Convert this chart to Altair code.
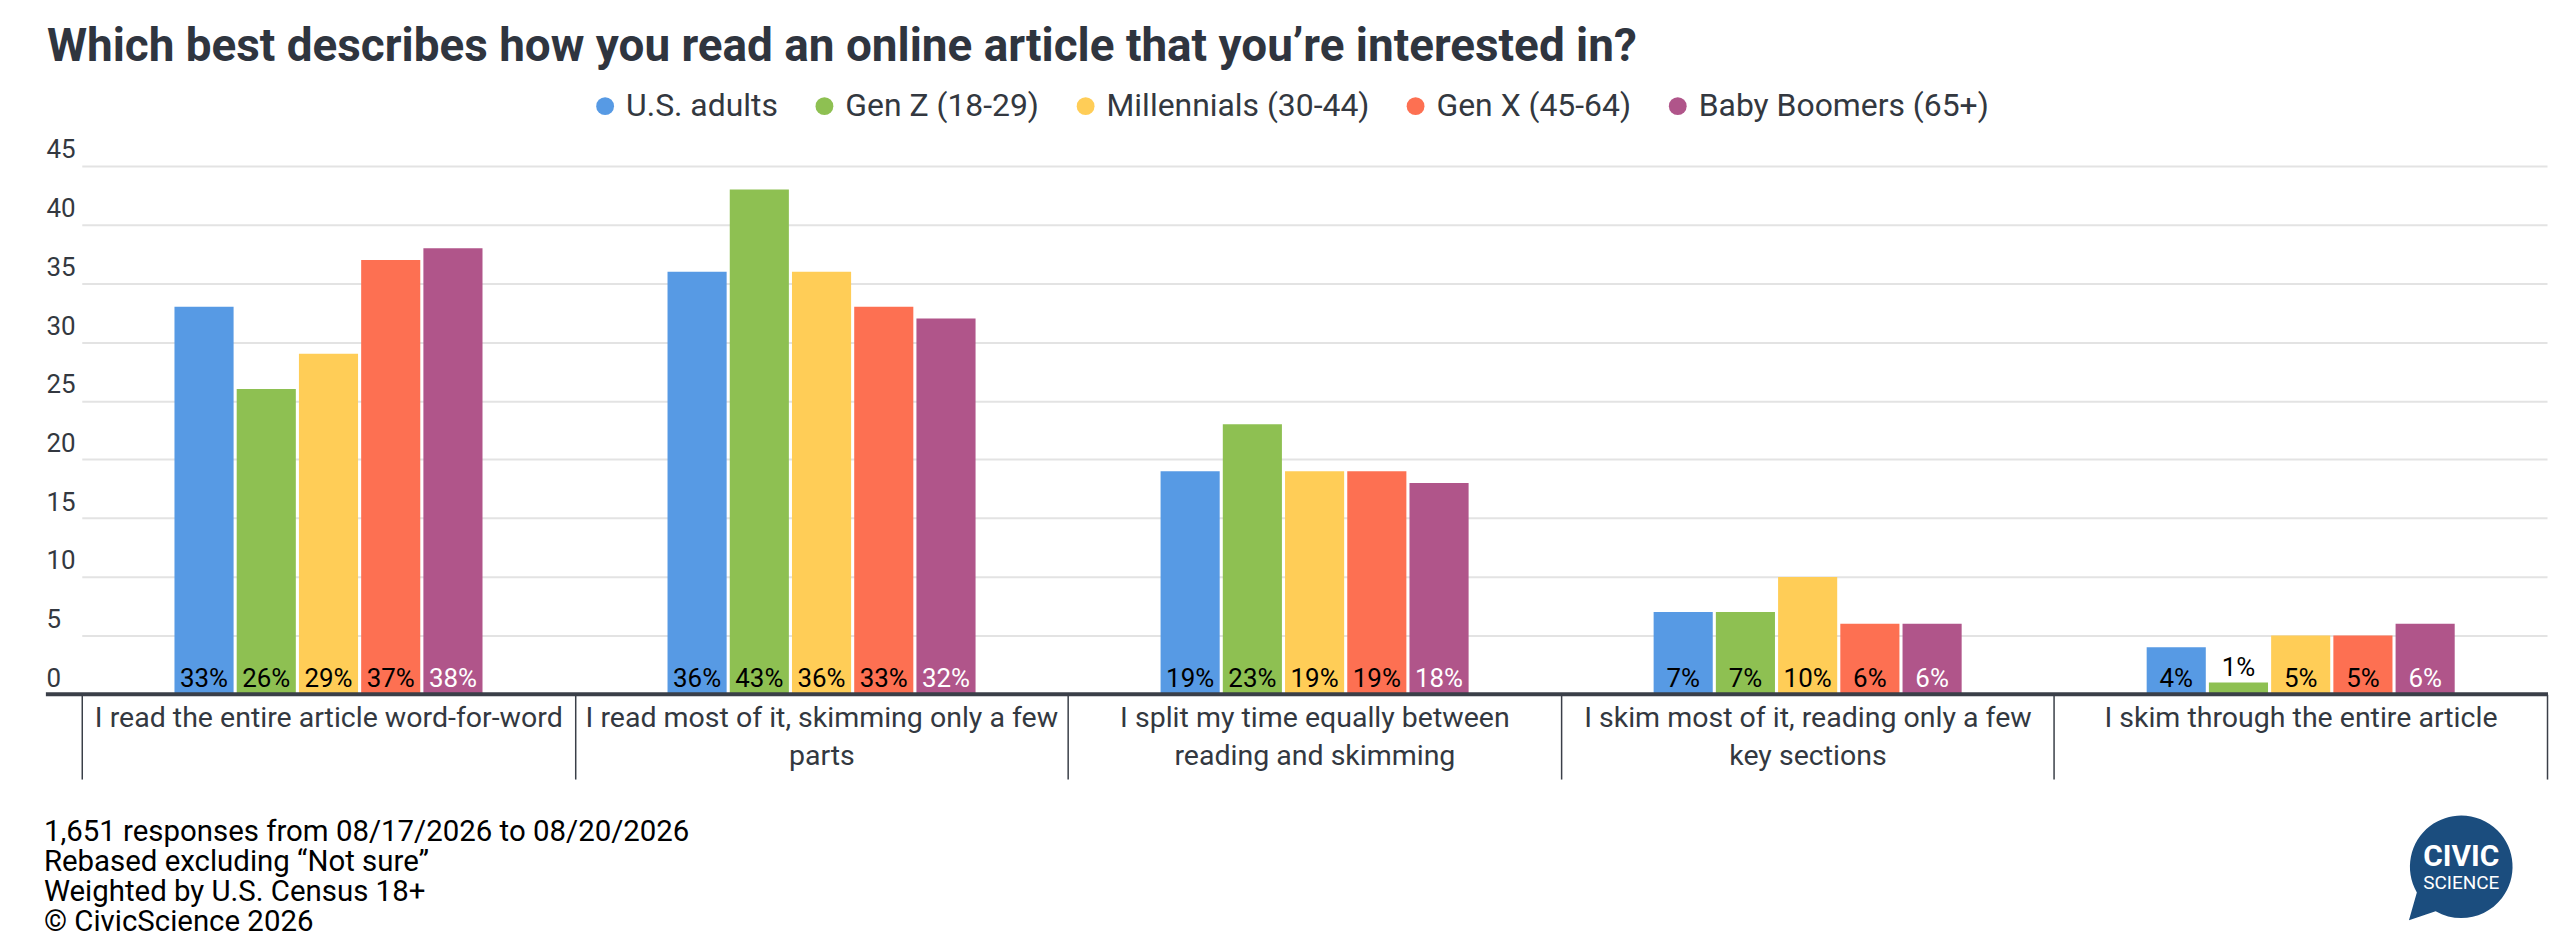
import json
import altair as alt
import pandas as pd

# ---------------- data ----------------
categories = [
    "I read the entire article word-for-word",
    "I read most of it, skimming only a few parts",
    "I split my time equally between reading and skimming",
    "I skim most of it, reading only a few key sections",
    "I skim through the entire article",
]
category_lines = [
    ["I read the entire article word-for-word"],
    ["I read most of it, skimming only a few", "parts"],
    ["I split my time equally between", "reading and skimming"],
    ["I skim most of it, reading only a few", "key sections"],
    ["I skim through the entire article"],
]
series = [
    "U.S. adults",
    "Gen Z (18-29)",
    "Millennials (30-44)",
    "Gen X (45-64)",
    "Baby Boomers (65+)",
]
us_adults = [33, 36, 19, 7, 4]
gen_z = [26, 43, 23, 7, 1]
millennials = [29, 36, 19, 10, 5]
gen_x = [37, 33, 19, 6, 5]
baby_boomers = [38, 32, 18, 6, 6]

colors = ["#579ae4", "#8ec052", "#ffcd57", "#fd7052", "#b0558a"]
label_colors = ["#000000", "#000000", "#000000", "#000000", "#ffffff"]
y_ticks = [0, 5, 10, 15, 20, 25, 30, 35, 40, 45]

title_text = "Which best describes how you read an online article that you\u2019re interested in?"
footer_lines = [
    "1,651 responses from 08/17/2026 to 08/20/2026",
    "Rebased excluding \u201cNot sure\u201d",
    "Weighted by U.S. Census 18+",
    "\u00a9 CivicScience 2026",
]

# ---------------- table ----------------
rows = []
for s, vals, lc in zip(series, [us_adults, gen_z, millennials, gen_x, baby_boomers], label_colors):
    for c, v in zip(categories, vals):
        rows.append({"category": c, "series": s, "value": v,
                     "label": f"{v}%", "label_color": lc, "base": 0})
df = pd.DataFrame(rows)

W, H = 2510, 530
TEXT = "#333840"
DARK = "#3a3f48"

# label expression for wrapped category labels
expr = "''"
for c, lines in reversed(list(zip(categories, category_lines))):
    expr = f"datum.label === {json.dumps(c)} ? {json.dumps(lines)} : ({expr})"

x_enc = alt.X(
    "category:N",
    sort=categories,
    title=None,
    scale=alt.Scale(range=[36, 2509], paddingInner=0, paddingOuter=0),
    axis=alt.Axis(
        domain=False,
        ticks=True,
        tickBand="extent",
        tickSize=85,
        tickColor=DARK,
        tickWidth=1.5,
        labelAngle=0,
        labelFont="Roboto",
        labelFontSize=28.6,
        labelColor=TEXT,
        labelLineHeight=38,
        labelPadding=-76,
        labelBaseline="top",
        labelLimit=800,
        labelOverlap=False,
        labelExpr=expr,
        zindex=1,
    ),
)
xoff = alt.XOffset("series:N", sort=series,
                   scale=alt.Scale(range=[93, 402], paddingInner=0.05, paddingOuter=0))
y_scale = alt.Scale(domain=[0, 45], nice=False)
y_axis = alt.Axis(
    values=y_ticks,
    domain=False,
    ticks=False,
    tickSize=0,
    labelAlign="left",
    labelBaseline="alphabetic",
    labelPadding=0,
    labelOffset=-8,
    labelFont="Roboto",
    labelFontSize=26,
    labelColor=TEXT,
    labelOverlap=False,
    grid=True,
    gridColor="#e3e3e3",
    gridWidth=2,
)

bars = alt.Chart(df).mark_bar().encode(
    x=x_enc,
    xOffset=xoff,
    y=alt.Y("value:Q", scale=y_scale, axis=y_axis, title=None),
    color=alt.Color(
        "series:N",
        sort=series,
        scale=alt.Scale(domain=series, range=colors),
        legend=alt.Legend(
            title=None,
            orient="none",
            direction="horizontal",
            legendX=545,
            legendY=-76,
            symbolType="circle",
            symbolSize=320,
            symbolStrokeWidth=0,
            labelFont="Roboto",
            labelFontSize=32,
            labelColor=TEXT,
            labelOffset=5,
            columnPadding=30,
            labelLimit=600,
        ),
    ),
)

inside = alt.Chart(df).transform_filter("datum.value >= 3").mark_text(
    font="Roboto", fontSize=26, baseline="alphabetic", dy=-7
).encode(
    x=x_enc,
    xOffset=xoff,
    y=alt.Y("base:Q", scale=y_scale),
    text="label:N",
    fill=alt.Fill("label_color:N", scale=None),
)

outside = alt.Chart(df).transform_filter("datum.value < 3").mark_text(
    font="Roboto", fontSize=26, baseline="alphabetic", dy=-7, color="#000000"
).encode(
    x=x_enc,
    xOffset=xoff,
    y=alt.Y("value:Q", scale=y_scale),
    text="label:N",
)

zero_line = alt.Chart(pd.DataFrame({"zero": [0]})).mark_rule(
    color=DARK, strokeWidth=4
).encode(y=alt.Y("zero:Q", scale=y_scale))

one = pd.DataFrame({"k": [0]})
footer = alt.Chart(one).mark_text(
    align="left", baseline="alphabetic", font="Roboto", fontSize=29.5,
    lineHeight=30, color="#000000"
).encode(x=alt.value(-2), y=alt.value(677), text=alt.value(footer_lines))

bubble_path = "M -0.5 0.866 A 1 1 0 1 0 -0.866 0.5 L -1.02 1.04 Z"
logo_bubble = alt.Chart(one).mark_point(
    shape=bubble_path, filled=True, size=10600, color="#1b4d7e", opacity=1, strokeWidth=0
).encode(x=alt.value(2423), y=alt.value(703))
logo_civic = alt.Chart(one).mark_text(
    font="Roboto", fontWeight="bold", fontSize=30, color="#ffffff", align="center", baseline="alphabetic"
).encode(x=alt.value(2423), y=alt.value(702), text=alt.value("CIVIC"))
logo_science = alt.Chart(one).mark_text(
    font="Roboto", fontSize=19, color="#ffffff", align="center", baseline="alphabetic"
).encode(x=alt.value(2423), y=alt.value(725), text=alt.value("SCIENCE"))

chart = alt.layer(
    bars, inside, outside, zero_line, footer, logo_bubble, logo_civic, logo_science
).properties(
    width=W,
    height=H,
    title=alt.TitleParams(
        title_text, anchor="start", frame="group", font="Roboto", fontWeight="bold",
        fontSize=46, color="#2f353f", offset=19, dx=1,
    ),
    autosize=alt.AutoSizeParams(type="none"),
    padding={"left": 38, "top": 157, "right": 4, "bottom": 246},
    background="white",
).configure_view(stroke=None)

chart.save("out.html", embed_options={"renderer": "svg", "actions": False})
